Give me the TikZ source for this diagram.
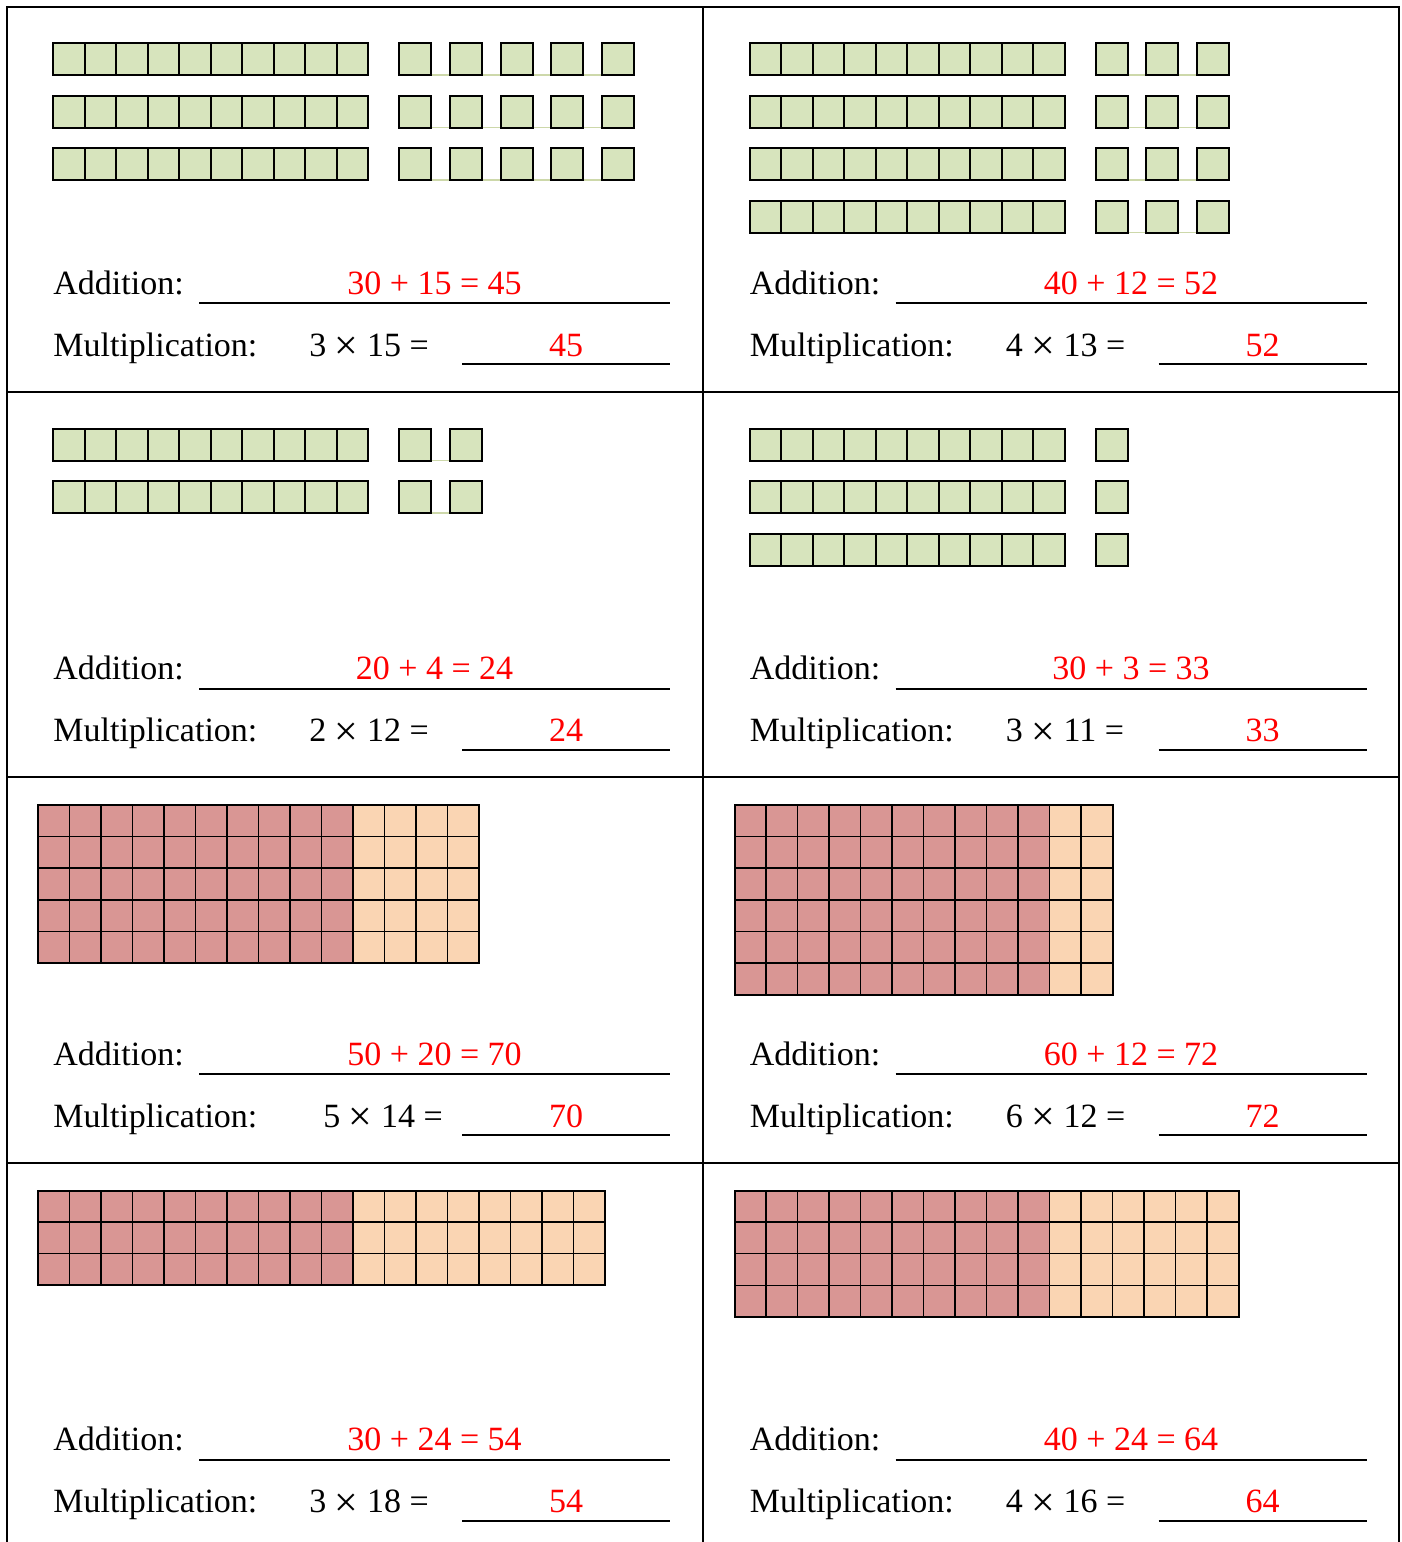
\documentclass[tikz,border=0pt]{standalone}
\usepackage{fontspec}
\setmainfont{Liberation Serif}
\definecolor{rodgreen}{RGB}{215,228,189}
\definecolor{rodline}{RGB}{205,216,170}
\definecolor{tensred}{RGB}{217,150,148}
\definecolor{onespeach}{RGB}{250,213,179}
\definecolor{answerred}{RGB}{255,0,0}
\newcommand{\bigtimes}{\raisebox{-1.8pt}{\fontsize{21}{20}\selectfont ×}}
\begin{document}
\begin{tikzpicture}[x=0.5pt, y=-0.5pt,
  tablerule/.style={line width=1pt},
  rodcell/.style={draw, line width=1pt, fill=rodgreen},
  gridcell/.style={draw, line width=0.75pt},
  blankline/.style={line width=1pt},
  wordtext/.style={anchor=base west, inner sep=0pt, font=\fontsize{17}{20}\selectfont},
  answer/.style={anchor=base, inner sep=0pt, text=answerred, font=\fontsize{17}{20}\selectfont}]
\useasboundingbox (0,0) rectangle (1402,1542);
% table
\draw[tablerule] (7,1542) -- (7,7) -- (1399,7) -- (1399,1542);
\draw[tablerule] (703,7) -- (703,1542);
\foreach \liney in {392,777,1163}
  \draw[tablerule] (7,\liney) -- (1399,\liney);
% tens rods and ones cubes
\foreach \col/\row/\nrods/\ncubes in {0/0/3/5, 1/0/4/3, 0/1/2/2, 1/1/3/1} {
  \begin{scope}[shift={(\col*696.5,\row*385.5)}]
  \foreach \r in {1,...,\nrods} {
    \foreach \i in {1,...,10}
      \draw[rodcell] ({53+(\i-1)*31.5},{43+(\r-1)*52.5}) rectangle ++(31.5,32);
    \draw[rodline, line width=0.6pt] (399,{75+(\r-1)*52.5}) -- ({431+(\ncubes-1)*50.75},{75+(\r-1)*52.5});
    \foreach \j in {1,...,\ncubes}
      \draw[rodcell] ({399+(\j-1)*50.75},{43+(\r-1)*52.5}) rectangle ++(32,32);
  }
  \end{scope}
}
% hundreds grids
\foreach \col/\row/\ncols/\nrows in {0/2/14/5, 1/2/12/6, 0/3/18/3, 1/3/16/4} {
  \begin{scope}[shift={(\col*696.5,\row*385.5)}]
  \foreach \j in {1,...,\nrows} {
    \foreach \i in {1,...,10}
      \draw[gridcell, fill=tensred] ({38+(\i-1)*31.5},{34+(\j-1)*31.6}) rectangle ++(31.5,31.6);
    \foreach \i in {11,...,\ncols}
      \draw[gridcell, fill=onespeach] ({38+(\i-1)*31.5},{34+(\j-1)*31.6}) rectangle ++(31.5,31.6);
  }
  \draw[line width=1pt] (38,34) rectangle ++({\ncols*31.5},{\nrows*31.6});
  \end{scope}
}
% sums and products
\foreach \col/\row/\sumtext/\multtext/\multx/\result in {
  0/0/{30 + 15 = 45}/{3 \bigtimes{} 15 =}/309/45,
  1/0/{40 + 12 = 52}/{4 \bigtimes{} 13 =}/309/52,
  0/1/{20 + 4 = 24}/{2 \bigtimes{} 12 =}/309/24,
  1/1/{30 + 3 = 33}/{3 \bigtimes{} 11 =}/309/33,
  0/2/{50 + 20 = 70}/{5 \bigtimes{} 14 =}/323/70,
  1/2/{60 + 12 = 72}/{6 \bigtimes{} 12 =}/309/72,
  0/3/{30 + 24 = 54}/{3 \bigtimes{} 18 =}/309/54,
  1/3/{40 + 24 = 64}/{4 \bigtimes{} 16 =}/309/64} {
  \begin{scope}[shift={(\col*696.5,\row*385.5)}]
  \node[wordtext] (addlabel-\col-\row) at (53,294) {Addition:};
  \node[wordtext] (multlabel-\col-\row) at (53,356) {Multiplication:};
  \node[wordtext] (product-\col-\row) at (\multx,356) {\multtext};
  \coordinate (addstart-\col-\row) at (199,303);
  \coordinate (addend-\col-\row) at (670,303);
  \coordinate (multstart-\col-\row) at (462,364);
  \coordinate (multend-\col-\row) at (670,364);
  \draw[blankline] (addstart-\col-\row) -- (addend-\col-\row);
  \draw[blankline] (multstart-\col-\row) -- (multend-\col-\row);
  \node[answer] (sum-\col-\row) at (434.5,294) {\sumtext};
  \node[answer] (result-\col-\row) at (566,356) {\result};
  \end{scope}
}
\end{tikzpicture}
\end{document}
